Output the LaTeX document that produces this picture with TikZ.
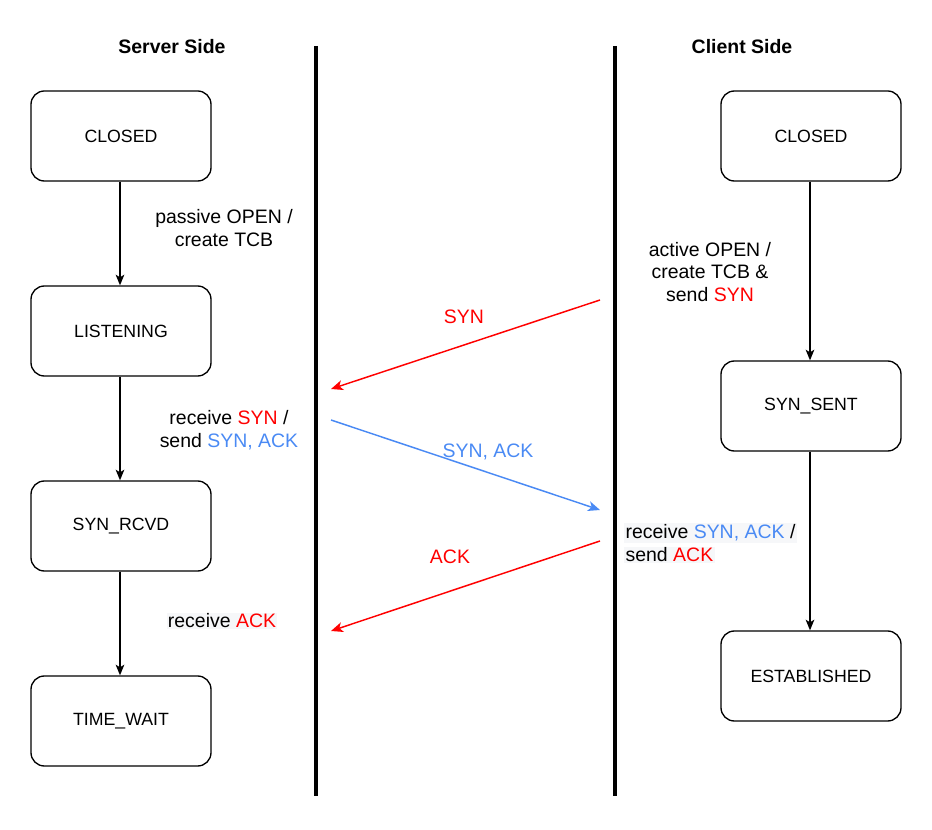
\documentclass[tikz,border=0pt]{standalone}
\usepackage{fontspec}
\setmainfont{Liberation Sans}
\usetikzlibrary{arrows.meta}
\definecolor{synred}{HTML}{FF0000}
\definecolor{ackblue}{HTML}{4A8AF4}
\definecolor{hl}{HTML}{F6F7F9}
\begin{document}
\begin{tikzpicture}[x=0.75pt,y=-0.75pt,
 state/.style={draw, rounded corners=10pt, minimum width=135pt, minimum height=67.5pt, line width=1pt, font=\fontsize{13.3}{16}\selectfont, inner sep=0pt},
 lbl/.style={font=\fontsize{14.6}{17}\selectfont, align=center, inner sep=1pt},
 ttl/.style={font=\bfseries\fontsize{14.6}{17}\selectfont},
 flow/.style={line width=1pt, -{Stealth[length=8pt,width=6.5pt,inset=2pt]}},
 msg/.style={line width=1.1pt, -{Stealth[length=9pt,width=7.5pt,inset=2.5pt]}},
 lane/.style={line width=2.3pt}
]
\useasboundingbox (0,0) rectangle (932,830);
% titles
\node[ttl] (tserver) at (172,47) {Server Side};
\node[ttl] (tclient) at (742,47) {Client Side};
% lanes
\coordinate (l1a) at (316,46); \coordinate (l1b) at (316,796);
\coordinate (l2a) at (615,46); \coordinate (l2b) at (615,796);
\draw[lane] (l1a) -- (l1b);
\draw[lane] (l2a) -- (l2b);
% server states
\node[state] (sclosed) at (121,136) {CLOSED};
\node[state] (slisten) at (121,331) {LISTENING};
\node[state] (srcvd) at (121,526) {SYN\_RCVD};
\node[state] (swait) at (121,721) {TIME\_WAIT};
% client states
\node[state] (cclosed) at (811,136) {CLOSED};
\node[state] (csent) at (811,406) {SYN\_SENT};
\node[state] (cest) at (811,676) {ESTABLISHED};
% flows
\draw[flow] (sclosed.south -| 120,0) -- (slisten.north -| 120,0);
\draw[flow] (slisten.south -| 120,0) -- (srcvd.north -| 120,0);
\draw[flow] (srcvd.south -| 120,0) -- (swait.north -| 120,0);
\draw[flow] (cclosed.south -| 810,0) -- (csent.north -| 810,0);
\draw[flow] (csent.south -| 810,0) -- (cest.north -| 810,0);
% flow labels
\node[lbl] (lpass) at (224,228) {passive OPEN /\\create TCB};
\node[lbl] (lrsyn) at (229,430) {receive \textcolor{synred}{SYN} /\\send \textcolor{ackblue}{SYN, ACK}};
\node[lbl, fill=hl] (lrack) at (222,621) {receive \textcolor{synred}{ACK}};
\node[lbl] (lact) at (710,272) {active OPEN /\\create TCB \&\\send \textcolor{synred}{SYN}};
\node[lbl, fill=hl, anchor=west] (lrsa1) at (624,533) {receive \textcolor{ackblue}{SYN, ACK} /};
\node[lbl, fill=hl, anchor=west] (lrsa2) at (624,555) {send \textcolor{synred}{ACK}};
% messages
\coordinate (m1a) at (600,300); \coordinate (m1b) at (331,389);
\coordinate (m2a) at (331,420); \coordinate (m2b) at (600,510);
\coordinate (m3a) at (600,541); \coordinate (m3b) at (331,631);
\draw[msg, synred] (m1a) -- (m1b);
\draw[msg, ackblue] (m2a) -- (m2b);
\draw[msg, synred] (m3a) -- (m3b);
\node[lbl, text=synred] (msyn) at (464,317) {SYN};
\node[lbl, text=ackblue] (msynack) at (488,452) {SYN, ACK};
\node[lbl, text=synred] (mack) at (450,557) {ACK};
\end{tikzpicture}
\end{document}
